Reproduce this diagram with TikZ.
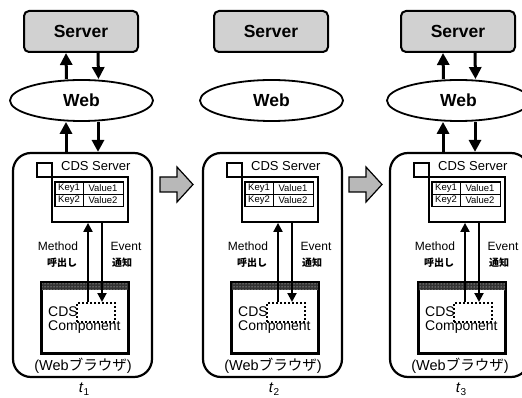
\documentclass[tikz,border=0pt]{standalone}
\usepackage{fontspec}
\setmainfont{Liberation Sans}
\newfontfamily\jp{Noto Sans CJK JP}
\usetikzlibrary{arrows.meta,shapes.geometric,patterns}
\tikzset{
  thickarrow/.style={line width=3pt,-{Triangle[length=12pt,width=12pt]}},
  thinarrow/.style={line width=2pt,-{Triangle[length=9pt,width=9pt]}},
  serverbox/.style={draw,line width=2pt,rounded corners=5pt,fill=black!18,minimum width=114pt,minimum height=41pt,inner sep=0pt,font=\bfseries\fontsize{17.5}{17.5}\selectfont},
  webell/.style={ellipse,draw,line width=1.8pt,minimum width=143pt,minimum height=41pt,inner sep=0pt,font=\bfseries\fontsize{17.5}{17.5}\selectfont},
  container/.style={draw,line width=2.2pt,rounded corners=18pt,minimum width=139pt,minimum height=224pt,inner sep=0pt},
  sqbox/.style={draw,line width=1.6pt,minimum width=15pt,minimum height=14pt,inner sep=0pt},
  cdsbox/.style={draw,line width=1.8pt,minimum width=76pt,minimum height=45pt,inner sep=0pt},
  cell/.style={draw,line width=0.9pt,inner sep=0pt,minimum height=12pt,font=\fontsize{9.5}{9.5}\selectfont},
  winbox/.style={draw,line width=1.8pt,minimum width=86pt,minimum height=70pt,inner sep=0pt},
  dbox/.style={draw,line width=2pt,dotted,minimum width=38pt,minimum height=19pt,inner sep=0pt},
  lbl/.style={inner sep=0pt,font=\fontsize{12}{12}\selectfont},
  jlbl/.style={inner sep=0pt,font=\jp\bfseries\fontsize{10}{10}\selectfont},
  comptext/.style={inner sep=0pt,anchor=west,font=\fontsize{14}{14}\selectfont},
  grayarrow/.style={fill=black!28,draw,line width=1.2pt},
}
\newcommand\cdspanel[3]{%
\begin{scope}[xshift=#1pt]
  \node[serverbox] (srv#2) at (81,31.5) {Server};
  \node[webell] (web#2) at (81.5,100.5) {Web};
  \node[container] (ct#2) at (82.5,265) {};
  \node[sqbox] (sq#2) at (44.5,170) {};
  \node[cdsbox] (cb#2) at (90,199.5) {};
  \node[inner sep=0pt,anchor=west,font=\fontsize{13}{13}\selectfont] (cst#2) at (61,166) {CDS Server};
  \node[cell,minimum width=28pt] (ka#2) at (69,188) {Key1};
  \node[cell,minimum width=40pt] (va#2) at (103,188) {Value1};
  \node[cell,minimum width=28pt] (kb#2) at (69,200) {Key2};
  \node[cell,minimum width=40pt] (vb#2) at (103,200) {Value2};
  \draw[line width=1.5pt] (ka#2.north west) rectangle (vb#2.south east);
  \node[winbox] (win#2) at (85,318) {};
  \fill[black!80] (win#2.north west) rectangle ([yshift=-8pt]win#2.north east);
  \fill[pattern=dots,pattern color=white] (win#2.north west) rectangle ([yshift=-8pt]win#2.north east);
  \draw[line width=1.8pt] (win#2.north west) rectangle (win#2.south east);
  \node[dbox] (db#2) at (96,312.5) {};
  \node[comptext] (cds#2) at (48,312) {CDS};
  \node[comptext] (comp#2) at (48,327.5) {Component};
  \draw[thinarrow] ([xshift=-8pt]db#2.north) -- ([xshift=-2pt]cb#2.south);
  \draw[thinarrow] ([xshift=12pt]cb#2.south) -- ([xshift=6pt]db#2.north);
  \node[lbl] (meth#2) at (58,246) {Method};
  \node[jlbl] (yobi#2) at (62,263) {呼出し};
  \node[lbl] (ev#2) at (126,246) {Event};
  \node[jlbl] (tsuchi#2) at (122,263) {通知};
  \node[inner sep=0pt,font=\fontsize{14.5}{14.5}\selectfont] (br#2) at (83,366) {(Web{\jp ブラウザ})};
  \node[inner sep=0pt,font=\fontsize{15}{15}\selectfont] (t#2) at (84,389) {\textit{t}\raisebox{-3pt}{\fontsize{10}{10}\selectfont #3}};
\end{scope}}
\newcommand\netarrows[1]{%
  \draw[thickarrow] ([xshift=-15pt]web#1.north) -- ([xshift=-15pt]srv#1.south);
  \draw[thickarrow] ([xshift=17pt]srv#1.south) -- ([xshift=17pt]web#1.north);
  \draw[thickarrow] ([xshift=-16.5pt]ct#1.north) -- ([xshift=-15.5pt]web#1.south);
  \draw[thickarrow] ([xshift=16.5pt]web#1.south) -- ([xshift=15.5pt]ct#1.north);
}
\begin{document}
\begin{tikzpicture}[x=1pt,y=-1pt]
  \useasboundingbox (0,0) rectangle (522,398);
  \clip (0,0) rectangle (522,398);
  \fill[white] (0,0) rectangle (522,398);
  \cdspanel{0}{a}{1}
  \cdspanel{190}{b}{2}
  \cdspanel{377}{c}{3}
  \netarrows{a}
  \netarrows{c}
  \draw[grayarrow] (160,177) -- (177,177) -- (177,167) -- (193,184.5) -- (177,202) -- (177,192) -- (160,192) -- cycle;
  \begin{scope}[xshift=189pt]
    \draw[grayarrow] (160,177) -- (177,177) -- (177,167) -- (193,184.5) -- (177,202) -- (177,192) -- (160,192) -- cycle;
  \end{scope}
\end{tikzpicture}
\end{document}
